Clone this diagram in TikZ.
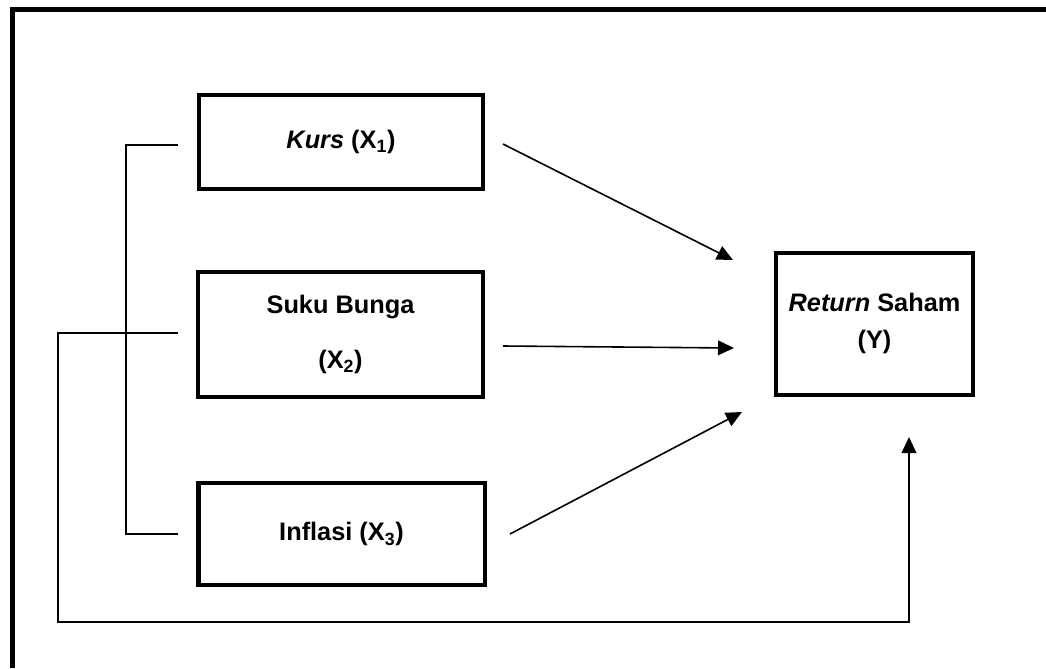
\documentclass[tikz,border=0pt]{standalone}
\usepackage{fontspec}
\setmainfont{Liberation Sans}
\usetikzlibrary{arrows.meta,positioning,calc}

\begin{document}
\begin{tikzpicture}[x=.75pt,y=-.75pt]
		\tikzstyle{kotak} = [draw,line width=3.5pt,inner sep=0pt,align=center,font=\bfseries\fontsize{19}{22}\selectfont]
		\tikzstyle{garis} = [line width=1.2pt]
		\tikzstyle{panah} = [garis,-{Triangle[length=12pt,width=11pt]}]
		\useasboundingbox (0,0) rectangle (1046,668);
		% bingkai luar
		\draw[line width=3.75pt] (1046,9) -- (12,9) -- (12,668);
		% variabel
		\node[kotak,minimum width=213pt,minimum height=70.5pt] (kurs) at (341,142) {\textit{Kurs} (X\textsubscript{1})};
		\node[kotak,minimum width=213.75pt,minimum height=93.75pt] (bunga) at (340.5,334.5) {Suku Bunga\\[19pt](X\textsubscript{2})};
		\node[kotak,minimum width=215pt,minimum height=76.5pt] (inflasi) at (341.5,534) {Inflasi (X\textsubscript{3})};
		\node[kotak,minimum width=147.75pt,minimum height=106.5pt] (saham) at (874.5,324) {\raisebox{6pt}{\begin{tabular}{@{}c@{}}\textit{Return} Saham\\[6pt](Y)\end{tabular}}};
		% titik bantu
		\coordinate (k1) at (178,145);
		\coordinate (k2) at (126,145);
		\coordinate (k3) at (126,534);
		\coordinate (k4) at (178,534);
		\coordinate (b1) at (178,333);
		\coordinate (b2) at (58,333);
		\coordinate (b3) at (58,622);
		\coordinate (b4) at (909,622);
		\coordinate (b5) at (909,437);
		\coordinate (a1) at (503,144);
		\coordinate (a2) at (733,260);
		\coordinate (a3) at (503,346);
		\coordinate (a4) at (734,348);
		\coordinate (a5) at (510,534);
		\coordinate (a6) at (742,412);
		% garis
		\draw[garis] (k1) -- (k2) -- (k3) -- (k4);
		\draw[panah] (b1) -- (b2) -- (b3) -- (b4) -- (b5);
		\draw[panah] (a1) -- (a2);
		\draw[panah] (a3) -- (a4);
		\draw[panah] (a5) -- (a6);
\end{tikzpicture}
\end{document}
